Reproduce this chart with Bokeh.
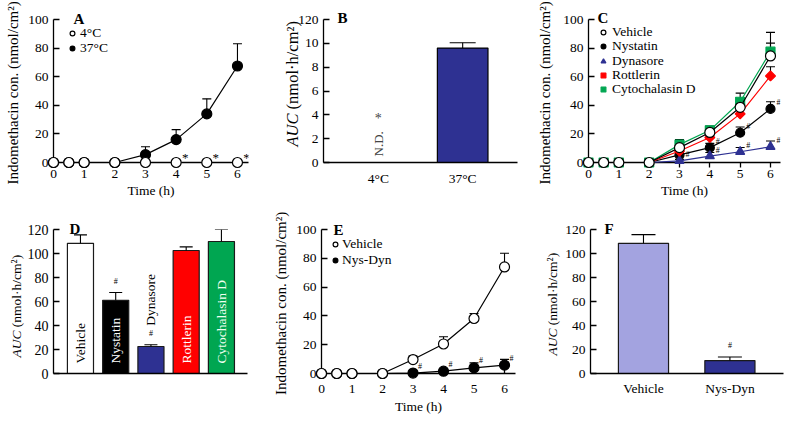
import math
from bokeh.plotting import figure
from bokeh.layouts import row, column
from bokeh.models import (ColumnDataSource, Whisker, TeeHead, Legend, LegendItem,
                          Label, LabelSet, Range1d)
from bokeh.core.properties import value
from bokeh.embed import file_html
from bokeh.resources import INLINE

FONT = "Liberation Serif"
BLUE = "#2E3192"
RED = "#FF0000"
GREEN = "#00A651"
LAVENDER = "#A3A3E0"

# ---------------- data ----------------
time_h = [0, 0.5, 1, 2, 3, 4, 5, 6]
time_ticks = [0, 1, 2, 3, 4, 5, 6]
conc_ticks = [0, 20, 40, 60, 80, 100]

# Panel A
a_labels = ["4°C", "37°C"]
a_4c = [0, 0, 0, 0, 0, 0, 0, 0]
a_4c_err = [0, 0, 0, 0, 0, 0, 0, 0]
a_37c = [0, 0, 0, 0, 5.5, 16, 34, 67.5]
a_37c_err = [0, 0, 0, 0, 5.5, 7, 10.5, 15.5]
a_sig_times = [4, 5, 6]

# Panel B
b_groups = ["4°C", "37°C"]
b_auc = [0, 9.6]
b_err = [0, 0.45]
b_yticks = [0, 2, 4, 6, 8, 10, 12]
b_ytick_labels = ["0", "2", "4", "6", "8", "10", "120"]

# Panel C
c_names = ["Vehicle", "Nystatin", "Dynasore", "Rottlerin", "Cytochalasin D"]
c_vehicle = [0, 0, 0, 0, 10.4, 21, 38.6, 74.5]
c_vehicle_err = [0, 0, 0, 0, 3.5, 4, 4, 9]
c_nystatin = [0, 0, 0, 0, 5.3, 10.4, 20.8, 37.5]
c_nystatin_err = [0, 0, 0, 0, 2, 3, 4, 5]
c_dynasore = [0, 0, 0, 0, 1.2, 4.5, 7.5, 11]
c_dynasore_err = [0, 0, 0, 0, 1, 2.5, 3, 4]
c_rottlerin = [0, 0, 0, 0, 8, 17.5, 34, 60.5]
c_rottlerin_err = [0, 0, 0, 0, 3, 3, 3.5, 6.5]
c_cyto = [0, 0, 0, 0, 12.5, 22.5, 42.5, 77.5]
c_cyto_err = [0, 0, 0, 0, 3.5, 3, 6, 13.5]
c_sig_nystatin = [4, 5, 6]
c_sig_dynasore = [3, 4, 5, 6]

# Panel D
d_groups = ["Vehicle", "Nystatin", "Dynasore", "Rottlerin", "Cytochalasin D"]
d_auc = [108.5, 61, 22.5, 102.5, 110]
d_err = [7, 6.5, 1.5, 3, 10]
d_sig = [False, True, True, False, False]
auc_ticks = [0, 20, 40, 60, 80, 100, 120]

# Panel E
e_names = ["Vehicle", "Nys-Dyn"]
e_vehicle = [0, 0, 0, 0, 9.7, 20.5, 38.2, 74]
e_vehicle_err = [0, 0, 0, 0, 2.5, 5, 3.5, 9.5]
e_nysdyn = [0, 0, 0, 0, 0.3, 1.6, 3.9, 5.8]
e_nysdyn_err = [0, 0, 0, 0, 0.8, 1.5, 3.5, 4]
e_sig_times = [3, 4, 5, 6]

# Panel F
f_groups = ["Vehicle", "Nys-Dyn"]
f_auc = [108.5, 10.8]
f_err = [7.2, 3]
f_sig = [False, True]


# ---------------- helpers ----------------
def at(series, t):
    return series[time_h.index(t)]


def make_fig(w, h, left, right, top, bottom, xr, yr, tick_fs="13.5px"):
    p = figure(width=w, height=h, x_range=Range1d(*xr), y_range=Range1d(*yr),
               output_backend="svg", toolbar_location=None,
               min_border_left=left, min_border_right=right,
               min_border_top=top, min_border_bottom=bottom)
    p.outline_line_color = None
    p.xgrid.visible = False
    p.ygrid.visible = False
    p.background_fill_color = "white"
    p.border_fill_color = "white"
    for ax in p.axis:
        ax.axis_line_color = "black"
        ax.axis_line_width = 1.3
        ax.major_tick_line_color = "black"
        ax.major_tick_line_width = 1.3
        ax.minor_tick_line_color = None
        ax.major_label_text_font = FONT
        ax.major_label_text_font_size = tick_fs
        ax.major_label_text_color = "black"
        ax.axis_label_text_font = FONT
        ax.axis_label_text_font_style = "normal"
        ax.axis_label_text_color = "black"
    p.yaxis.major_tick_in = 6
    p.yaxis.major_tick_out = 0
    p.yaxis.major_label_standoff = 5
    return p


def add_whiskers(p, x, y, err, cap):
    keep = [i for i, e in enumerate(err) if e > 0]
    src = ColumnDataSource(dict(x=[x[i] for i in keep],
                                lower=[y[i] for i in keep],
                                upper=[y[i] + err[i] for i in keep]))
    p.add_layout(Whisker(source=src, base="x", lower="lower", upper="upper",
                         dimension="height", line_color="black", line_width=1.1,
                         level="annotation",
                         upper_head=TeeHead(size=cap, line_color="black", line_width=1.1),
                         lower_head=None))


def add_series(p, y, err, marker, size, fill, color, mline=None, angle=0.0):
    add_whiskers(p, time_h, y, err, 9)
    p.line(time_h, y, line_color=color, line_width=1.2, level="overlay")
    return p.scatter(time_h, y, marker=marker, size=size, fill_color=fill,
                     line_color=mline or color, line_width=1.2, angle=angle,
                     level="overlay")


ROWH = 18


def add_legend(p, items, frame_h, first, step, gx, gw, standoff, fs="13.5px"):
    # one single-entry legend per item, stacked at a fixed pixel step from the frame top
    for k, (lab, r) in enumerate(items):
        centre = first + k * step
        lg = Legend(items=[LegendItem(label=lab, renderers=[r])],
                    location=(gx - gw / 2, frame_h - centre - ROWH / 2),
                    margin=0, padding=0, spacing=0,
                    glyph_width=gw, glyph_height=ROWH, label_height=ROWH,
                    label_standoff=standoff, background_fill_alpha=0,
                    border_line_color=None, label_text_font=FONT,
                    label_text_font_size=fs, label_text_color="black",
                    label_text_baseline="middle")
        p.add_layout(lg)


def panel_letter(p, text, dx, dy):
    p.text(x=[p.x_range.start], y=[p.y_range.end], text=[text], x_offset=dx, y_offset=-dy,
           text_font=value(FONT), text_font_style="bold", text_font_size=value("15px"),
           text_baseline="middle", text_align="left", text_color="black", level="overlay")


def marks(p, xs, ys, txt, dx, dy, fs):
    src = ColumnDataSource(dict(x=xs, y=ys, t=[txt] * len(xs)))
    p.add_layout(LabelSet(source=src, x="x", y="y", text="t", x_offset=dx, y_offset=dy,
                          text_font=FONT, text_font_size=fs, text_align="center",
                          text_baseline="middle", text_color="black", level="overlay"))


def auc_label(p, dx, dy, fs):
    common = dict(x=[p.x_range.start], y=[p.y_range.start], x_offset=dx, angle=math.pi / 2,
                  text_font=value(FONT), text_font_size=value(f"{fs}px"), text_align="left",
                  text_baseline="middle", text_color="black", level="overlay")
    p.text(text=["AUC"], y_offset=-dy, text_font_style="italic", **common)
    p.text(text=["(nmol·h/cm²)"], y_offset=-(dy + 2.25 * fs), **common)


def time_axes(p, ylabel_standoff, tick_in, tick_out, lab_standoff, axlab_standoff):
    p.xaxis.ticker = time_ticks
    p.xaxis.major_tick_in = tick_in
    p.xaxis.major_tick_out = tick_out
    p.xaxis.major_label_standoff = lab_standoff
    p.xaxis.axis_label = "Time (h)"
    p.xaxis.axis_label_text_font_size = "13.5px"
    p.xaxis.axis_label_standoff = axlab_standoff
    p.yaxis.ticker = conc_ticks
    p.yaxis.axis_label = "Indomethacin  con. (nmol/cm²)"
    p.yaxis.axis_label_text_font_size = "15px"
    p.yaxis.axis_label_standoff = ylabel_standoff


H1, H2 = 203, 218

# ---------------- Panel A ----------------
pA = make_fig(260, H1, 53, 12, 19, 40, (0, 6.36), (0, 100))
time_axes(pA, 4, 4, 0, 7, 2)
r37 = add_series(pA, a_37c, a_37c_err, "circle", 10, "black", "black")
r4 = add_series(pA, a_4c, a_4c_err, "circle", 10, "white", "black")
add_legend(pA, [(a_labels[0], r4), (a_labels[1], r37)], 144, 14.5, 15.5, 19, 12, 2)
marks(pA, a_sig_times, [at(a_4c, t) for t in a_sig_times], "*", 9, 5, "13px")
panel_letter(pA, "A", 20, 1)

# ---------------- Panel B ----------------
pB = make_fig(262, H1, 63, 5, 19, 40, (-0.65, 1.65), (0, 12))
pB.yaxis.ticker = b_yticks
pB.yaxis.major_label_overrides = {t: l for t, l in zip(b_yticks, b_ytick_labels)}
pB.xaxis.ticker = [0, 1]
pB.xaxis.major_label_overrides = {i: g for i, g in enumerate(b_groups)}
pB.xaxis.major_tick_in = 0
pB.xaxis.major_tick_out = 0
pB.xaxis.major_label_standoff = 8
pB.vbar(x=[0, 1], top=b_auc, width=0.6, fill_color=["white", BLUE],
        line_color="black", line_width=1.2)
add_whiskers(pB, [0, 1], b_auc, b_err, 26)
pB.add_layout(Label(x=0, y=b_auc[0], y_offset=6, angle=math.pi / 2, text="N.D.",
                    text_font=FONT, text_font_size="13px", text_align="left",
                    text_baseline="middle", level="overlay"))
pB.add_layout(Label(x=0, y=b_auc[0], y_offset=44, text="*", text_font=FONT,
                    text_font_size="14px", text_align="center",
                    text_baseline="middle", level="overlay"))
auc_label(pB, -31, 16, 16.5)
panel_letter(pB, "B", 14, 2)

# ---------------- Panel C ----------------
pC = make_fig(266, H1, 66, 8, 17, 41, (0, 6.33), (0, 100))
time_axes(pC, 7, 0, 5, 2, 2)
rNy = add_series(pC, c_nystatin, c_nystatin_err, "circle", 9, "black", "black")
rDy = add_series(pC, c_dynasore, c_dynasore_err, "triangle", 9, BLUE, BLUE)
rRo = add_series(pC, c_rottlerin, c_rottlerin_err, "square", 7, RED, RED, angle=math.pi / 4)
rCy = add_series(pC, c_cyto, c_cyto_err, "square", 9, GREEN, GREEN)
rVe = add_series(pC, c_vehicle, c_vehicle_err, "circle", 10, "white", "black")
add_legend(pC, list(zip(c_names, [rVe, rNy, rDy, rRo, rCy])), 145, 15, 14.25, 15, 12, 3)
marks(pC, c_sig_nystatin, [at(c_nystatin, t) for t in c_sig_nystatin], "#", 8, 6, "8px")
marks(pC, c_sig_dynasore, [at(c_dynasore, t) for t in c_sig_dynasore], "#", 8, 6, "8px")
panel_letter(pC, "C", 9, 2)

# ---------------- Panel D ----------------
d_x = list(range(len(d_groups)))
pD = make_fig(260, H2, 53, 13, 26, 48, (-0.765, 4.74), (0, 120), tick_fs="14px")
pD.yaxis.ticker = auc_ticks
pD.xaxis.ticker = []
pD.vbar(x=d_x, top=d_auc, width=0.74,
        fill_color=["white", "black", BLUE, RED, GREEN],
        line_color="#1a1a1a", line_width=1.2)
add_whiskers(pD, d_x, d_auc, d_err, 13)
inside = [v > 50 for v in d_auc]
d_lab = ColumnDataSource(dict(
    x=d_x,
    y=[0 if ins else v + e for v, e, ins in zip(d_auc, d_err, inside)],
    off=[10 if ins else 19 for ins in inside],
    t=d_groups,
    c=["black", "white", "black", "white", "#F0FFF0"]))
pD.add_layout(LabelSet(source=d_lab, x="x", y="y", y_offset="off", text="t",
                       text_color="c", angle=math.pi / 2, text_font=FONT,
                       text_font_size="13.5px", text_align="left",
                       text_baseline="middle", level="overlay"))
sig_i = [i for i, s in enumerate(d_sig) if s]
marks(pD, [d_x[i] for i in sig_i], [d_auc[i] + d_err[i] for i in sig_i], "#", 0, 11, "8px")
auc_label(pD, -37, 16, 13.5)
panel_letter(pD, "D", 16, 1)

# ---------------- Panel E ----------------
pE = make_fig(262, H2, 61, 7, 26, 48, (0, 6.36), (0, 100))
time_axes(pE, 4, 4, 0, 11, 3)
rNd = add_series(pE, e_nysdyn, e_nysdyn_err, "circle", 10, "black", "black")
rEv = add_series(pE, e_vehicle, e_vehicle_err, "circle", 10, "white", "black")
add_legend(pE, [(e_names[0], rEv), (e_names[1], rNd)], 144, 15, 15.5, 14, 12, 1)
marks(pE, e_sig_times, [at(e_nysdyn, t) for t in e_sig_times], "#", 7, 7, "8px")
panel_letter(pE, "E", 12, 0)

# ---------------- Panel F ----------------
f_x = list(range(len(f_groups)))
pF = make_fig(266, H2, 68, 5, 26, 48, (-0.613, 1.62), (0, 120))
pF.yaxis.ticker = auc_ticks
pF.xaxis.ticker = f_x
pF.xaxis.major_label_overrides = {i: g for i, g in enumerate(f_groups)}
pF.xaxis.major_tick_in = 0
pF.xaxis.major_tick_out = 0
pF.xaxis.major_label_standoff = 7
pF.vbar(x=f_x, top=f_auc, width=0.58, fill_color=[LAVENDER, BLUE],
        line_color="#1a1a1a", line_width=1.2)
add_whiskers(pF, f_x, f_auc, f_err, 24)
sig_f = [i for i, s in enumerate(f_sig) if s]
marks(pF, [f_x[i] for i in sig_f], [f_auc[i] + f_err[i] for i in sig_f], "#", 0, 11, "8px")
auc_label(pF, -38, 18, 13.5)
panel_letter(pF, "F", 14, 1)

layout = column(row(pA, pB, pC, spacing=0), row(pD, pE, pF, spacing=0), spacing=0)
open("out.html", "w").write(file_html(layout, INLINE))
